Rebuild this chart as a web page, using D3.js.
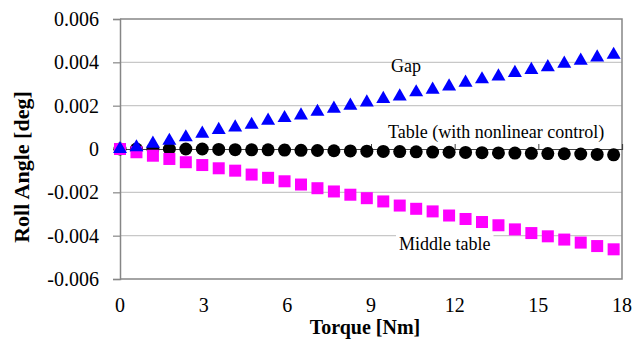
<!DOCTYPE html>
<html>
<head>
<meta charset="utf-8">
<script src="https://cdn.jsdelivr.net/npm/d3@7"></script>
<style>
  html, body { margin: 0; padding: 0; background: #fff; }
  svg { display: block; }
  svg text { font-family: "Liberation Serif", "DejaVu Serif", "Times New Roman", Times, serif !important; }
</style>
</head>
<body>
<svg id="chart" width="635" height="344"></svg>
<script>
// ---- data ----
const torque = [0, 0.59, 1.18, 1.77, 2.36, 2.95, 3.54, 4.13, 4.72, 5.31, 5.9, 6.49, 7.08, 7.67, 8.26, 8.85,
  9.44, 10.03, 10.62, 11.21, 11.8, 12.39, 12.98, 13.57, 14.16, 14.75, 15.34, 15.93, 16.52, 17.11, 17.7];
const gap = [0, 0.00008, 0.00025, 0.00038, 0.00054, 0.00071, 0.00088, 0.001, 0.00112, 0.00131, 0.00143,
  0.00155, 0.00172, 0.00186, 0.002, 0.00215, 0.00231, 0.00243, 0.00262, 0.00274, 0.00289, 0.00306,
  0.00322, 0.00335, 0.00351, 0.00365, 0.00378, 0.00394, 0.00408, 0.00423, 0.00435];
const tableCtrl = [0, 0, 0, 0, 0, 0, -0.00002, -0.00003, -0.00004, -0.00004, -0.00005, -0.00006, -0.00007,
  -0.00008, -0.00009, -0.0001, -0.00011, -0.00012, -0.00013, -0.00014, -0.00015, -0.00016, -0.00017,
  -0.00018, -0.00019, -0.0002, -0.00021, -0.00022, -0.00023, -0.00025, -0.00027];
const middleTable = [0, -0.00015, -0.00031, -0.00046, -0.00061, -0.00074, -0.00089, -0.001, -0.00118,
  -0.00133, -0.00149, -0.00164, -0.00181, -0.00196, -0.00211, -0.00227, -0.00242, -0.00261, -0.00276,
  -0.00288, -0.00307, -0.00323, -0.00337, -0.00352, -0.00371, -0.00388, -0.00403, -0.00418, -0.00432,
  -0.00448, -0.00463];
const xTicks = [0, 3, 6, 9, 12, 15, 18];
const yTicks = [-0.006, -0.004, -0.002, 0, 0.002, 0.004, 0.006];
const yTickLabels = ["-0.006", "-0.004", "-0.002", "0", "0.002", "0.004", "0.006"];
const seriesLabels = ["Gap", "Table (with nonlinear control)", "Middle table"];

// ---- layout ----
const svg = d3.select("#chart");
const L = 120, R = 622, T = 19, B = 279;
const x = d3.scaleLinear().domain([0, 18]).range([L, R]);
const y = d3.scaleLinear().domain([-0.006, 0.006]).range([B, T]);

// gridlines
svg.append("g").selectAll("line").data(yTicks.filter(v => v !== 0 && Math.abs(v) < 0.006))
  .join("line")
  .attr("x1", L).attr("x2", R)
  .attr("y1", d => y(d)).attr("y2", d => y(d))
  .attr("stroke", "#c8c8c8").attr("stroke-width", 1.2);

// plot border (top, right, bottom)
svg.append("path")
  .attr("d", `M${L},${T}H${R}V${B}H${L}`)
  .attr("fill", "none").attr("stroke", "#868686").attr("stroke-width", 1.5);

// y axis (left) with outside ticks
const yAxis = d3.axisLeft(y).tickValues(yTicks).tickSize(7).tickPadding(14)
  .tickFormat((d, i) => yTickLabels[i]);
const gy = svg.append("g").attr("transform", `translate(${L},0)`).call(yAxis);
gy.attr("font-family", null);
gy.select(".domain").attr("stroke", "#868686").attr("stroke-width", 1.5);
gy.selectAll(".tick line").attr("stroke", "#868686").attr("stroke-width", 1.2);
gy.selectAll(".tick text").attr("font-size", 20).attr("fill", "#000");

// x axis line crossing at zero, labels at bottom
const gx = svg.append("g").attr("transform", `translate(0,${y(0)})`)
  .call(d3.axisTop(x).tickValues(xTicks).tickSize(5).tickFormat(""));
gx.select(".domain").attr("stroke", "#404040").attr("stroke-width", 1.2);
gx.selectAll(".tick line").attr("stroke", "#404040");

svg.append("g").selectAll("text").data(xTicks).join("text")
  .attr("x", d => x(d)).attr("y", 312)
  .attr("text-anchor", "middle")
  .attr("font-size", 20).attr("fill", "#000")
  .text(d => d);

// axis titles
svg.append("text")
  .attr("x", 365).attr("y", 334)
  .attr("text-anchor", "middle")
  .attr("font-size", 20).attr("font-weight", "bold")
  .text("Torque [Nm]");
svg.append("text")
  .attr("transform", "translate(29,167) rotate(-90)")
  .attr("text-anchor", "middle")
  .attr("font-size", 22).attr("font-weight", "bold")
  .text("Roll Angle [deg]");

// series labels (text boxes with white background)
const labelPos = [[391, 72], [388, 138], [399, 250]];
const lg = svg.append("g");
labelPos.forEach((p, i) => {
  const t = lg.append("text")
    .attr("x", p[0]).attr("y", p[1])
    .attr("font-size", 18).attr("fill", "#000")
    .text(seriesLabels[i]);
  if (i === 2) {
    const bb = t.node().getBBox();
    lg.insert("rect", () => t.node())
      .attr("x", bb.x - 3).attr("y", bb.y).attr("width", bb.width + 6).attr("height", bb.height)
      .attr("fill", "#fff");
  }
});

// markers
const pts = (ys) => torque.map((t, i) => [t, ys[i]]);
svg.append("g").selectAll("circle").data(pts(tableCtrl)).join("circle")
  .attr("cx", d => x(d[0])).attr("cy", d => y(d[1])).attr("r", 6.5)
  .attr("fill", "#000");
svg.append("g").selectAll("rect").data(pts(middleTable)).join("rect")
  .attr("x", d => x(d[0]) - 6).attr("y", d => y(d[1]) - 6)
  .attr("width", 12).attr("height", 12)
  .attr("fill", "#ff00ff");
const tri = d3.symbol().type(d3.symbolTriangle).size(85);
svg.append("g").selectAll("path").data(pts(gap)).join("path")
  .attr("d", tri)
  .attr("transform", d => `translate(${x(d[0])},${y(d[1])})`)
  .attr("fill", "#0000ff");
</script>
</body>
</html>
